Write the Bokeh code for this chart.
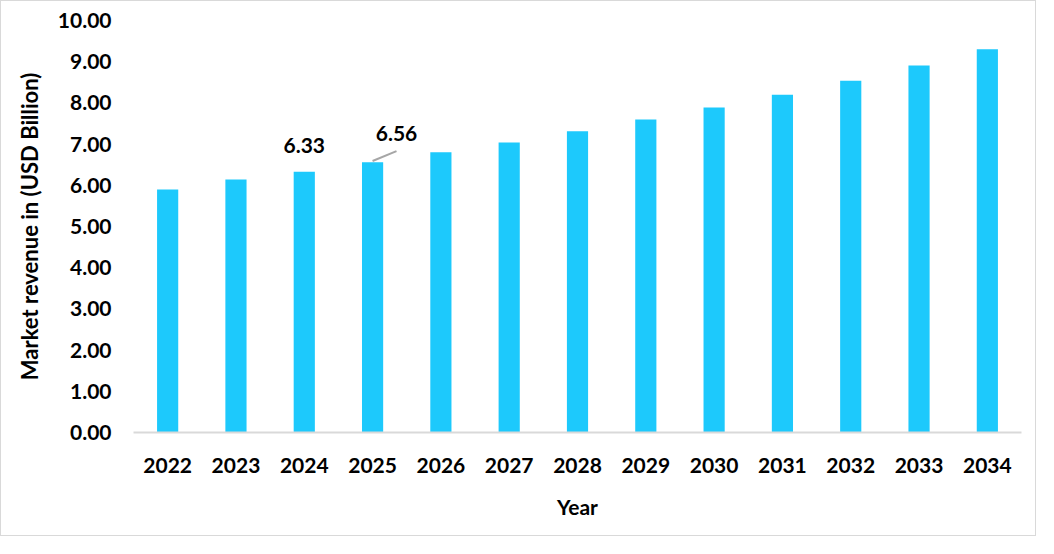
from bokeh.plotting import figure
from bokeh.models import FactorRange, Range1d, FixedTicker, NumeralTickFormatter, ColumnDataSource
from bokeh.transform import dodge
from bokeh.core.properties import value
from bokeh.embed import file_html
from bokeh.resources import INLINE

years = ["2022", "2023", "2024", "2025", "2026", "2027", "2028", "2029", "2030", "2031", "2032", "2033", "2034"]
revenue = [5.90, 6.14, 6.33, 6.56, 6.80, 7.04, 7.31, 7.60, 7.89, 8.20, 8.54, 8.91, 9.30]
y_ticks = [0, 1, 2, 3, 4, 5, 6, 7, 8, 9, 10]
label_years = ["2024", "2025"]
label_values = [6.33, 6.56]

FONT = "Lato"

p = figure(
    width=1036, height=536,
    x_range=FactorRange(*years, range_padding=0),
    y_range=Range1d(0, 10),
    output_backend="svg", toolbar_location=None,
    min_border_left=132, min_border_right=16, min_border_top=19, min_border_bottom=105,
)
p.styles = {"border": "1px solid #d9d9d9"}
p.outline_line_color = None
p.xgrid.grid_line_color = None
p.ygrid.grid_line_color = None
p.background_fill_color = "white"
p.border_fill_color = "white"

src = ColumnDataSource(dict(year=years, revenue=revenue))
p.vbar(x="year", top="revenue", width=0.31, source=src, color="#1DC9FC", line_color=None)

# data labels
p.text(x=[label_years[0]], y=[label_values[0]], text=[f"{label_values[0]:.2f}"],
       text_align="center", text_baseline="middle", y_offset=-26,
       text_font=value(FONT), text_font_style="bold", text_font_size="21px", text_color="black")
lsrc = ColumnDataSource(dict(x=[label_years[1]], y=[label_values[1]], t=[f"{label_values[1]:.2f}"],
                             y0=[label_values[1] + 0.03], y1=[label_values[1] + 0.27]))
p.text(x=dodge("x", 0.35, range=p.x_range), y="y", text="t", source=lsrc,
       text_align="center", text_baseline="middle", y_offset=-29,
       text_font=value(FONT), text_font_style="bold", text_font_size="21px", text_color="black")
# leader line from bar top to label
p.segment(x0="x", y0="y0", x1=dodge("x", 0.35, range=p.x_range), y1="y1", source=lsrc,
          line_color="#a6a6a6", line_width=2)

# axes
p.yaxis.ticker = FixedTicker(ticks=y_ticks)
p.yaxis.formatter = NumeralTickFormatter(format="0.00")
p.yaxis.axis_line_color = None
p.yaxis.major_tick_line_color = None
p.yaxis.minor_tick_line_color = None
p.yaxis.major_label_standoff = 16
p.yaxis.major_label_text_font = FONT
p.yaxis.major_label_text_font_style = "bold"
p.yaxis.major_label_text_font_size = "21px"
p.yaxis.major_label_text_color = "black"
p.yaxis.axis_label = "Market revenue in (USD Billion)"
p.yaxis.axis_label_text_font = FONT
p.yaxis.axis_label_text_font_style = "bold"
p.yaxis.axis_label_text_font_size = "22px"
p.yaxis.axis_label_text_color = "black"
p.yaxis.axis_label_standoff = 12

p.xaxis.axis_line_color = "#d9d9d9"
p.xaxis.axis_line_width = 2
p.xaxis.major_tick_line_color = None
p.xaxis.minor_tick_line_color = None
p.xaxis.major_label_standoff = 19
p.xaxis.major_label_text_font = FONT
p.xaxis.major_label_text_font_style = "bold"
p.xaxis.major_label_text_font_size = "21px"
p.xaxis.major_label_text_color = "black"
p.xaxis.axis_label = "Year"
p.xaxis.axis_label_text_font = FONT
p.xaxis.axis_label_text_font_style = "bold"
p.xaxis.axis_label_text_font_size = "21px"
p.xaxis.axis_label_text_color = "black"
p.xaxis.axis_label_standoff = 18

open("out.html", "w").write(file_html(p, INLINE))
